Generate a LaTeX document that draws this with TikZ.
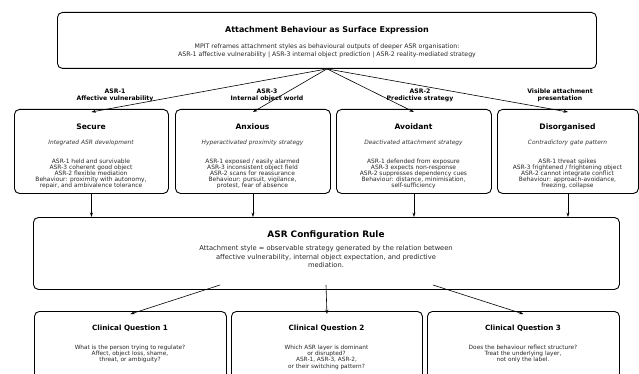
\documentclass[tikz,border=0pt]{standalone}
\usepackage{fontspec}
\setmainfont{DejaVu Sans}
\usetikzlibrary{arrows.meta}
\begin{document}
\begin{tikzpicture}[x=1pt,y=-1pt,
  box/.style={draw=black, line width=0.9pt, rounded corners=5pt, anchor=north west, inner sep=0pt},
  arr/.style={-{Stealth[length=4.5pt,width=3pt]}, line width=0.6pt},
  ttl/.style={font=\fontsize{7.6}{9}\selectfont\bfseries, inner sep=0pt},
  sub/.style={font=\fontsize{5.9}{6.5}\selectfont\itshape, text=black!80, inner sep=0pt},
  body/.style={font=\fontsize{5.95}{6.1}\selectfont, align=center, text=black!85, inner sep=0pt},
  lab/.style={font=\fontsize{6.15}{7.2}\selectfont\bfseries, align=center, inner sep=0pt}]
\useasboundingbox (0,0) rectangle (639,374);

% top box
\node[box, minimum width=539pt, minimum height=56pt] (top) at (57,12) {};
\node[font=\fontsize{8}{9.6}\selectfont\bfseries, inner sep=0pt] (toptitle) at (327,30) {Attachment Behaviour as Surface Expression};
\node[body, font=\fontsize{6.2}{8}\selectfont] (toptext) at (327,51) {MPIT reframes attachment styles as behavioural outputs of deeper ASR organisation:\\ASR-1 affective vulnerability | ASR-3 internal object prediction | ASR-2 reality-mediated strategy};

% four boxes
\node[box, minimum width=154pt, minimum height=84pt] (sec) at (14,109) {};
\node[box, minimum width=155pt, minimum height=84pt] (anx) at (175,109) {};
\node[box, minimum width=155pt, minimum height=84pt] (avo) at (336,109) {};
\node[box, minimum width=141pt, minimum height=84pt] (dis) at (497,109) {};

\node[ttl] (sect) at (91,127) {Secure};
\node[sub] (secs) at (91,143) {Integrated ASR development};
\node[body] (secb) at (91,174) {ASR-1 held and survivable\\ASR-3 coherent good object\\ASR-2 flexible mediation\\Behaviour: proximity with autonomy,\\repair, and ambivalence tolerance};

\node[ttl] (anxt) at (252.5,127) {Anxious};
\node[sub] (anxs) at (252.5,143) {Hyperactivated proximity strategy};
\node[body] (anxb) at (252.5,174) {ASR-1 exposed / easily alarmed\\ASR-3 inconsistent object field\\ASR-2 scans for reassurance\\Behaviour: pursuit, vigilance,\\protest, fear of absence};

\node[ttl] (avot) at (413.5,127) {Avoidant};
\node[sub] (avos) at (413.5,143) {Deactivated attachment strategy};
\node[body] (avob) at (413.5,174) {ASR-1 defended from exposure\\ASR-3 expects non-response\\ASR-2 suppresses dependency cues\\Behaviour: distance, minimisation,\\self-sufficiency};

\node[ttl] (dist) at (567.5,127) {Disorganised};
\node[sub] (diss) at (567.5,143) {Contradictory gate pattern};
\node[body] (disb) at (567.5,174) {ASR-1 threat spikes\\ASR-3 frightened / frightening object\\ASR-2 cannot integrate conflict\\Behaviour: approach-avoidance,\\freezing, collapse};

% labels
\node[lab] (l1) at (115,95.5) {ASR-1\\Affective vulnerability};
\node[lab] (l2) at (267,95.5) {ASR-3\\Internal object world};
\node[lab] (l3) at (420,95.5) {ASR-2\\Predictive strategy};
\node[lab] (l4) at (560,95.5) {Visible attachment\\presentation};

% top arrows
\coordinate (src) at (top.south);
\draw[arr] (src) -- ([yshift=-3pt]sec.north);
\draw[arr] (src) -- ([yshift=-3pt]anx.north);
\draw[arr] (src) -- ([yshift=-3pt]avo.north);
\draw[arr] (src) -- ([yshift=-3pt]dis.north);

% config box
\node[box, minimum width=586pt, minimum height=72pt] (cfg) at (33,217) {};
\node[ttl, font=\fontsize{8.9}{10}\selectfont\bfseries] (cfgt) at (326,235) {ASR Configuration Rule};
\node[body, font=\fontsize{6.7}{8.5}\selectfont] (cfgb) at (326,257) {Attachment style = observable strategy generated by the relation between\\affective vulnerability, internal object expectation, and predictive\\mediation.};

\draw[arr] (sec.south) -- (sec.south |- cfg.north);
\draw[arr] (anx.south) -- (anx.south |- cfg.north);
\draw[arr] (avo.south) -- (avo.south |- cfg.north);
\draw[arr] (dis.south) -- (dis.south |- cfg.north);

% bottom boxes
\node[box, minimum width=192pt, minimum height=80pt] (q1) at (34,311) {};
\node[box, minimum width=191pt, minimum height=80pt] (q2) at (231,311) {};
\node[box, minimum width=192pt, minimum height=80pt] (q3) at (427,311) {};

\node[ttl, font=\fontsize{7.2}{8.6}\selectfont\bfseries] (q1t) at (130,328) {Clinical Question 1};
\node[body, font=\fontsize{5.8}{6.3}\selectfont] (q1b) at (130,354) {What is the person trying to regulate?\\Affect, object loss, shame,\\threat, or ambiguity?};
\node[ttl, font=\fontsize{7.2}{8.6}\selectfont\bfseries] (q2t) at (326.5,328) {Clinical Question 2};
\node[body, font=\fontsize{5.8}{6.3}\selectfont] (q2b) at (326.5,357) {Which ASR layer is dominant\\or disrupted?\\ASR-1, ASR-3, ASR-2,\\or their switching pattern?};
\node[ttl, font=\fontsize{7.2}{8.6}\selectfont\bfseries] (q3t) at (523,328) {Clinical Question 3};
\node[body, font=\fontsize{5.8}{6.3}\selectfont] (q3b) at (523,354) {Does the behaviour reflect structure?\\Treat the underlying layer,\\not only the label.};

\coordinate (c1) at (220,285);
\coordinate (c2) at (326,285);
\coordinate (c3) at (433,285);
\draw[arr] (c1) -- ([yshift=-3pt]q1.north);
\draw[arr] (c2) -- ([yshift=-3pt]q2.north);
\draw[arr] (c3) -- ([yshift=-3pt]q3.north);
\end{tikzpicture}
\end{document}
